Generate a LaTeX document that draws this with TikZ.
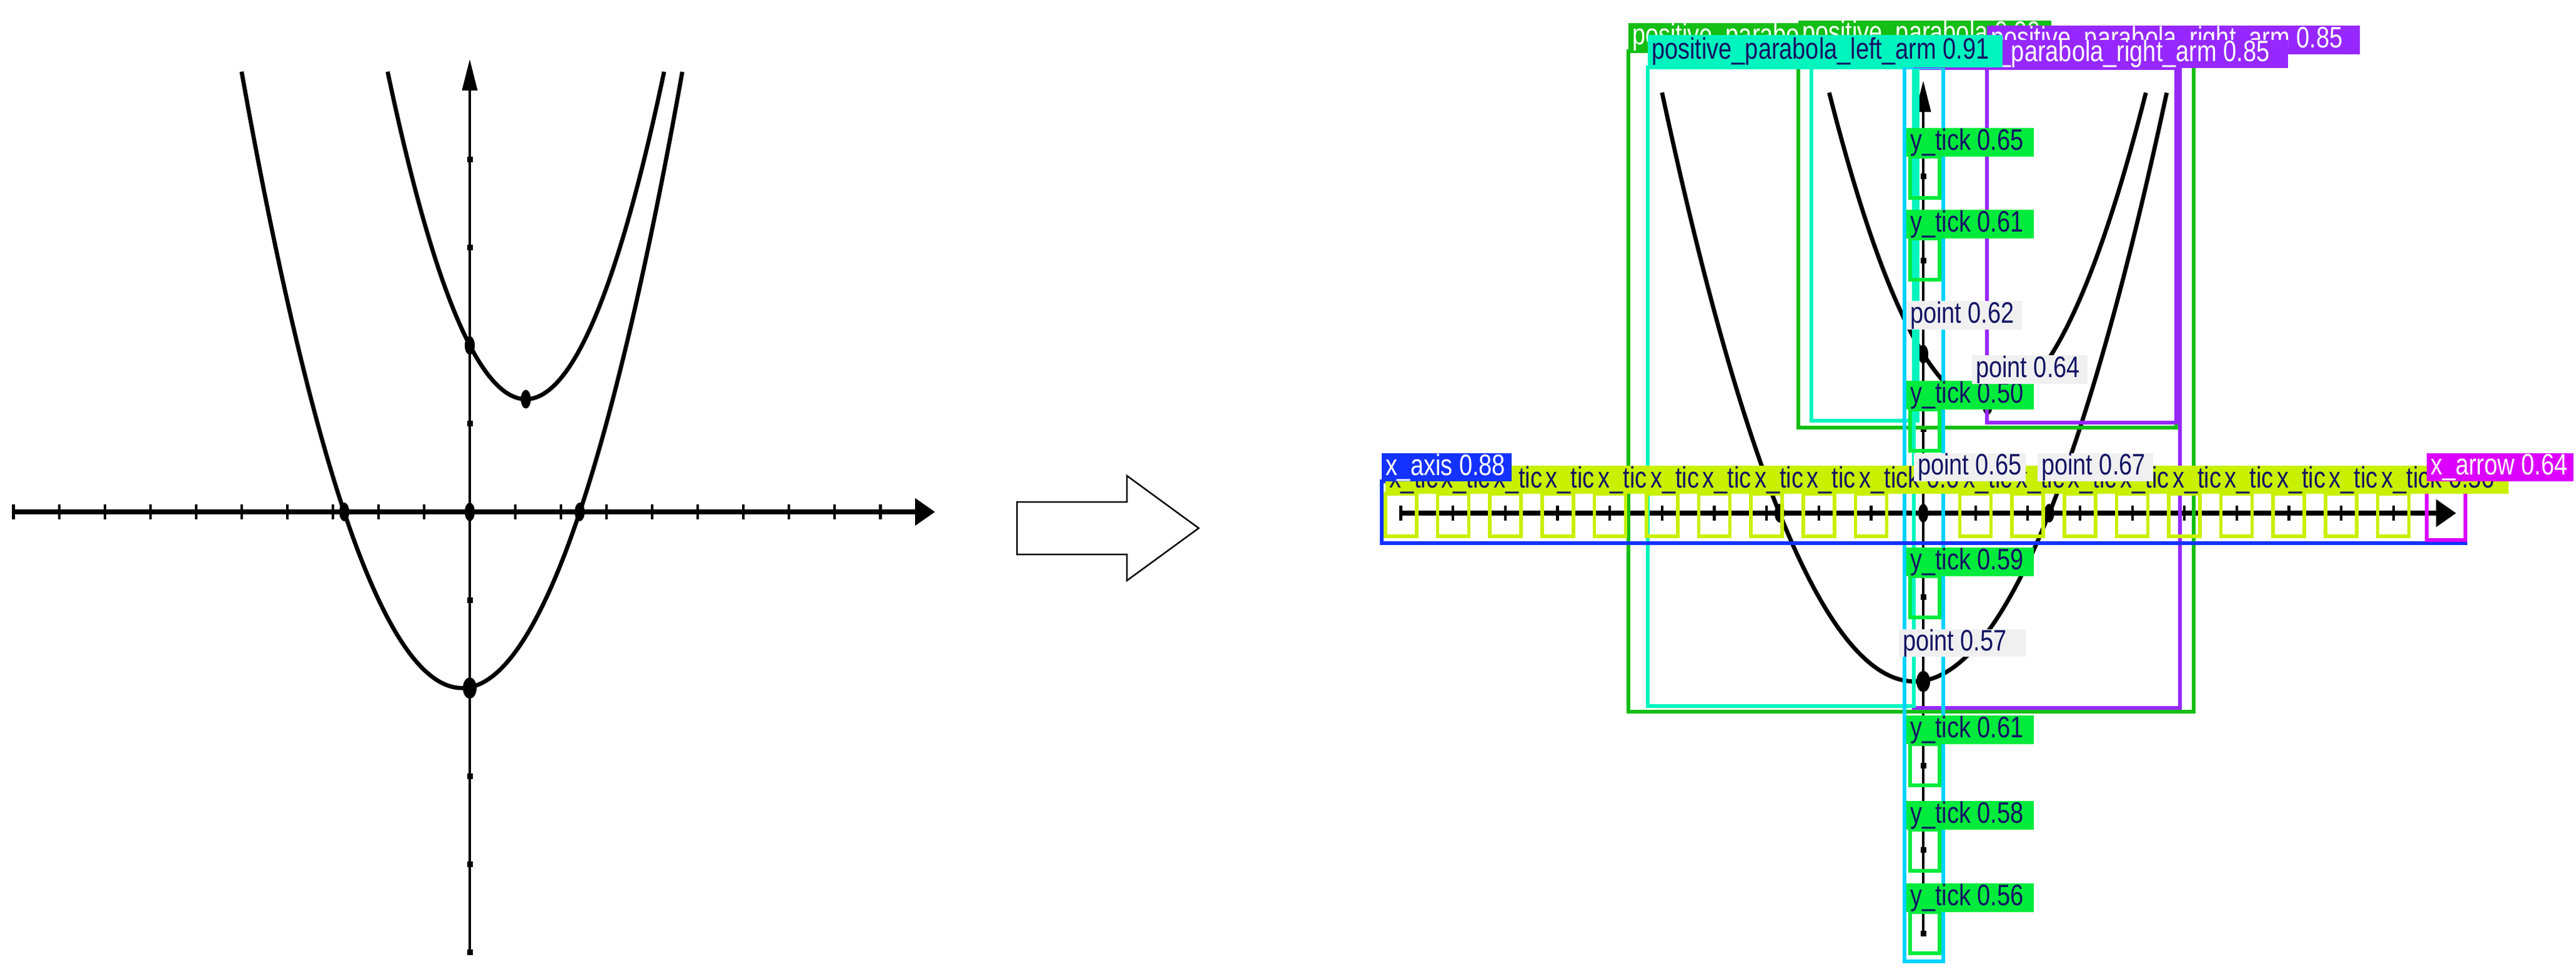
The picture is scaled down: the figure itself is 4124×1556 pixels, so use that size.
\documentclass[tikz,border=0pt]{standalone}
\usepackage{fontspec}
\usepackage{graphicx}
\setmainfont{Liberation Sans}
\usetikzlibrary{arrows.meta}
\definecolor{boxgreen}{RGB}{20,190,20}
\definecolor{tickgreen}{RGB}{0,235,60}
\definecolor{tealc}{RGB}{0,245,190}
\definecolor{cyanc}{RGB}{0,210,255}
\definecolor{purplec}{RGB}{150,40,255}
\definecolor{bluec}{RGB}{20,50,255}
\definecolor{magc}{RGB}{220,0,255}
\definecolor{xtickc}{RGB}{200,240,0}
\definecolor{navyc}{RGB}{20,20,100}
\definecolor{pointbg}{RGB}{240,240,240}
\tikzset{
 curve/.style={line width=1.9pt},
 xax/.style={line width=2.4pt,-{Triangle[length=0.32cm,width=0.42cm]}},
 yax/.style={line width=1.1pt,-{Triangle[length=0.5cm,width=0.24cm]}},
 detbox/.style={line width=1.6pt},
 lbltext/.style={font=\fontsize{13.5}{14}\selectfont,inner xsep=1.5pt,inner ysep=0pt,anchor=west}
}
\newcommand\lbl[8]{\fill[#6] (#2,#3) rectangle (#4,#5);
 \node[lbltext,text=#7] (#1) at (#2,{(#3+#5)/2}) {\scalebox{0.8}[1]{#8}};}
\newcommand\mygraph{%
 \draw[xax] (-10,0) coordinate (xs) -- (10.2,0) coordinate (xe);
 \foreach \k in {-10,...,9}{\draw[line width=1.2pt] (\k,0)++(0,-0.12cm) -- ++(0,0.24cm);}
 \draw[yax] (0,-5) coordinate (ys) -- (0,5.14) coordinate (ye);
 \foreach \k in {-5,-4,-3,-1,1,3,4}{\fill (0,\k) ++(-0.045cm,-0.045cm) rectangle ++(0.09cm,0.09cm);}
 \draw[curve] plot[domain=-5:4.66,samples=80,smooth] (\x,{0.3*(\x+0.17)^2-2});
 \draw[curve] plot[domain=-1.8:4.26,samples=80,smooth] (\x,{0.405*(\x-1.23)^2+1.28});
 \foreach \p in {(0,0),(-2.75,0),(2.41,0),(0,1.89),(1.23,1.28)}{\fill \p ellipse [x radius=0.08cm,y radius=0.15cm];}
 \fill (0,-2) ellipse [x radius=0.11cm,y radius=0.17cm];
}
\begin{document}
\begin{tikzpicture}[x=0.01cm,y=-0.01cm]
\useasboundingbox (0,0) rectangle (4124,1556);
\begin{scope}[shift={(752,820)},x={(0.73cm,0)},y={(0,1.41cm)}]
 \mygraph
\end{scope}
\draw[line width=0.7pt] (1628,804) -- (1804,804) -- (1804,762) -- (1919,846) -- (1804,930) -- (1804,888) -- (1628,888) -- cycle;
\begin{scope}[shift={(3079,822)},x={(0.836cm,0)},y={(0,1.347cm)}]
 \mygraph
\end{scope}
% detection boxes
\draw[detbox,boxgreen] (2607,82) rectangle (3512,1140);
\draw[detbox,boxgreen] (2879,78) rectangle (3484,685);
\draw[detbox,purplec] (3181,87) rectangle (3484,677);
\draw[detbox,purplec] (3064,109) rectangle (3490,1134);
\draw[detbox,tealc] (2638,108) rectangle (3064,1131);
\draw[detbox,tealc] (2900,108) rectangle (3070,674);
\draw[detbox,cyanc] (3049,108) rectangle (3111,1540);
\foreach \t in {251,382,656,923,1192,1329,1461}{\draw[detbox,tickgreen] (3058,\t) rectangle (3105,\t+66);}
\draw[detbox,bluec] (2212,771) rectangle (3947,870);
\foreach \k in {-10,...,-1,1,2,...,9}{\draw[detbox,xtickc] ({3079+83.6*\k-25},791) rectangle ({3079+83.6*\k+25},859);}
\draw[detbox,magc] (3885,771) rectangle (3947,865);
% labels
\lbl{lgA}{2607}{37}{3010}{82}{boxgreen}{white}{positive\_parabola 0.88}
\lbl{lgB}{2879}{33}{3284}{78}{boxgreen}{white}{positive\_parabola 0.90}
\lbl{ltB}{2900}{62}{3468}{108}{tealc}{navyc}{positive\_parabola\_left\_arm 0.82}
\lbl{lpA}{3181}{41}{3778}{87}{purplec}{white}{positive\_parabola\_right\_arm 0.85}
\lbl{lpB}{3064}{64}{3663}{109}{purplec}{white}{positive\_parabola\_right\_arm 0.85}
\lbl{ltA}{2638}{56}{3206}{108}{tealc}{navyc}{positive\_parabola\_left\_arm 0.91}
\lbl{ly1}{3052}{205}{3256}{251}{tickgreen}{navyc}{y\_tick 0.65}
\lbl{ly2}{3052}{336}{3256}{382}{tickgreen}{navyc}{y\_tick 0.61}
\lbl{ly3}{3052}{610}{3256}{656}{tickgreen}{navyc}{y\_tick 0.50}
\lbl{ly4}{3052}{877}{3256}{923}{tickgreen}{navyc}{y\_tick 0.59}
\lbl{ly5}{3052}{1146}{3256}{1192}{tickgreen}{navyc}{y\_tick 0.61}
\lbl{ly6}{3052}{1283}{3256}{1329}{tickgreen}{navyc}{y\_tick 0.58}
\lbl{ly7}{3052}{1415}{3256}{1461}{tickgreen}{navyc}{y\_tick 0.56}
\foreach \k/\s [count=\n] in {-10/0.61,-9/0.60,-8/0.60,-7/0.60,-6/0.60,-5/0.60,-4/0.60,-3/0.60,-2/0.60,-1/0.61,1/0.61,2/0.61,3/0.61,4/0.60,5/0.60,6/0.59,7/0.59,8/0.57,9/0.56}{
 \lbl{lx\n}{{3079+83.6*\k-25}}{746}{{3079+83.6*\k+185}}{791}{xtickc}{navyc}{x\_tick \s}}
\lbl{lpt1}{3052}{482}{3237}{528}{pointbg}{navyc}{point 0.62}
\lbl{lpt2}{3157}{569}{3342}{615}{pointbg}{navyc}{point 0.64}
\lbl{lpt3}{3064}{726}{3243}{771}{pointbg}{navyc}{point 0.65}
\lbl{lpt4}{3262}{726}{3447}{771}{pointbg}{navyc}{point 0.67}
\lbl{lpt5}{3040}{1008}{3243}{1052}{pointbg}{navyc}{point 0.57}
\lbl{lxa}{2212}{726}{2420}{771}{bluec}{white}{x\_axis 0.88}
\lbl{lxr}{3885}{726}{4120}{771}{magc}{white}{x\_arrow 0.64}
\end{tikzpicture}
\end{document}
